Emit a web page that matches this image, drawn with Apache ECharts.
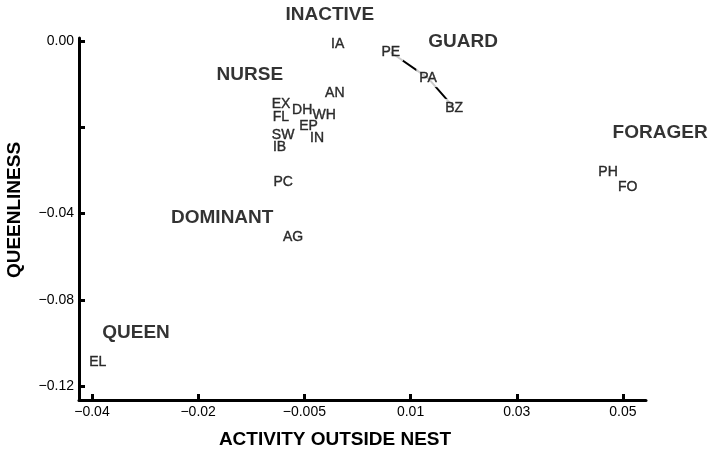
<!DOCTYPE html>
<html>
<head>
<meta charset="utf-8">
<script src="https://cdn.jsdelivr.net/npm/echarts@6/dist/echarts.min.js"></script>
<style>html,body{margin:0;padding:0;background:#fff;}#chart{width:710px;height:453px;}</style>
</head>
<body>
<div id="chart"></div>
<script>
// Axis ticks (the original axes are evenly spaced between these tick values)
const xTickValues = [-0.04, -0.02, -0.005, 0.01, 0.03, 0.05];
const xTickLabels = ['\u22120.04', '\u22120.02', '\u22120.005', '0.01', '0.03', '0.05'];
const yTickValues = [0, -0.02, -0.04, -0.08, -0.12];
const yTickLabels = ['0.00', '', '\u22120.04', '\u22120.08', '\u22120.12'];

// Behaviour codes
const codes = ['IA', 'PE', 'PA', 'BZ', 'AN', 'EX', 'DH', 'WH', 'FL', 'EP', 'SW', 'IN', 'IB', 'PC', 'AG', 'PH', 'FO', 'EL'];
const activity = [-0.0003, 0.0072, 0.0133, 0.0182, -0.0007, -0.0083, -0.0053, -0.0022, -0.0083, -0.0044, -0.0080, -0.0032, -0.0085, -0.0080, -0.0066, 0.0472, 0.0509, -0.0389];
const queenliness = [-0.0007, -0.0026, -0.0086, -0.0155, -0.0121, -0.0146, -0.0160, -0.0172, -0.0176, -0.0197, -0.0218, -0.0225, -0.0246, -0.0327, -0.0509, -0.0304, -0.0339, -0.1089];

// Caste group annotations
const groupNames = ['INACTIVE', 'GUARD', 'NURSE', 'DOMINANT', 'FORAGER', 'QUEEN'];
const groupActivity = [-0.0014, 0.0199, -0.0127, -0.0166, 0.0570, -0.0317];
const groupQueenliness = [0.0060, -0.0002, -0.0079, -0.0421, -0.0213, -0.0954];

// Guard sequence joined by a line
const guardPath = ['PE', 'PA', 'BZ'];

// map a value onto the evenly spaced tick positions of the original axes
function toIndex(v, t) {
  const dir = Math.sign(t[1] - t[0]);
  let i = 0;
  while (i < t.length - 2 && (v - t[i + 1]) * dir > 0) i++;
  return i + (v - t[i]) / (t[i + 1] - t[i]);
}
const px = v => toIndex(v, xTickValues);
const py = v => -toIndex(v, yTickValues);

const FONT = '"Liberation Sans", Arial, Helvetica, sans-serif';

const pointData = codes.map((c, i) => {
  const item = { name: c, value: [px(activity[i]), py(queenliness[i])] };
  if (guardPath.includes(c)) {
    item.label = { backgroundColor: '#fff', padding: [2, 3, 2, 3] };
  }
  return item;
});
const pathData = guardPath.map(c => {
  const i = codes.indexOf(c);
  return [px(activity[i]), py(queenliness[i])];
});
const groupData = groupNames.map((g, i) => ({ name: g, value: [px(groupActivity[i]), py(groupQueenliness[i])] }));

const chart = echarts.init(document.getElementById('chart'), null, { renderer: 'canvas' });
chart.setOption({
  animation: false,
  backgroundColor: '#fff',
  grid: { left: 79, right: 64, top: 38, bottom: 53, containLabel: false },
  xAxis: {
    type: 'value',
    min: -0.122, max: 5.217,
    splitLine: { show: false },
    axisLine: { show: true, onZero: false, lineStyle: { color: '#000', width: 3 } },
    axisTick: { show: true, inside: true, length: 6, customValues: xTickLabels.map((_, i) => i), lineStyle: { color: '#000', width: 3 } },
    axisLabel: {
      show: true, margin: 5, customValues: xTickLabels.map((_, i) => i),
      formatter: v => xTickLabels[Math.round(v)] ?? '',
      color: '#000', fontSize: 14, fontFamily: FONT
    }
  },
  yAxis: {
    type: 'value',
    min: -4.16, max: 0.035,
    splitLine: { show: false },
    axisLine: { show: true, onZero: false, lineStyle: { color: '#000', width: 3 } },
    axisTick: { show: true, inside: true, length: 6, customValues: yTickLabels.map((_, i) => -i), lineStyle: { color: '#000', width: 3 } },
    axisLabel: {
      show: true, margin: 5, customValues: yTickLabels.map((_, i) => -i),
      formatter: v => yTickLabels[Math.round(-v)] ?? '',
      color: '#000', fontSize: 14, fontFamily: FONT
    }
  },
  graphic: [
    { type: 'text', x: 335, y: 440, style: { text: 'ACTIVITY OUTSIDE NEST', x: 0, y: 0, align: 'center', verticalAlign: 'middle', font: 'bold 19px ' + FONT, fill: '#000' } },
    { type: 'text', x: 15, y: 210, rotation: Math.PI / 2, style: { text: 'QUEENLINESS', x: 0, y: 0, align: 'center', verticalAlign: 'middle', font: 'bold 19px ' + FONT, fill: '#000' } }
  ],
  series: [
    {
      type: 'line', data: pathData, symbol: 'none', z: 1,
      lineStyle: { color: '#000', width: 2 }, silent: true
    },
    {
      type: 'scatter', data: pointData, symbolSize: 0, z: 3, clip: false,
      label: { show: true, position: 'inside', formatter: p => p.name, color: '#000', fontSize: 14, fontFamily: FONT, textBorderColor: '#000', textBorderWidth: 0.4 }
    },
    {
      type: 'scatter', data: groupData, symbolSize: 0, z: 3, clip: false,
      label: { show: true, position: 'inside', formatter: p => p.name, color: '#000', fontSize: 19, fontWeight: 'bold', fontFamily: FONT, textBorderWidth: 0 }
    }
  ]
});
</script>
</body>
</html>
